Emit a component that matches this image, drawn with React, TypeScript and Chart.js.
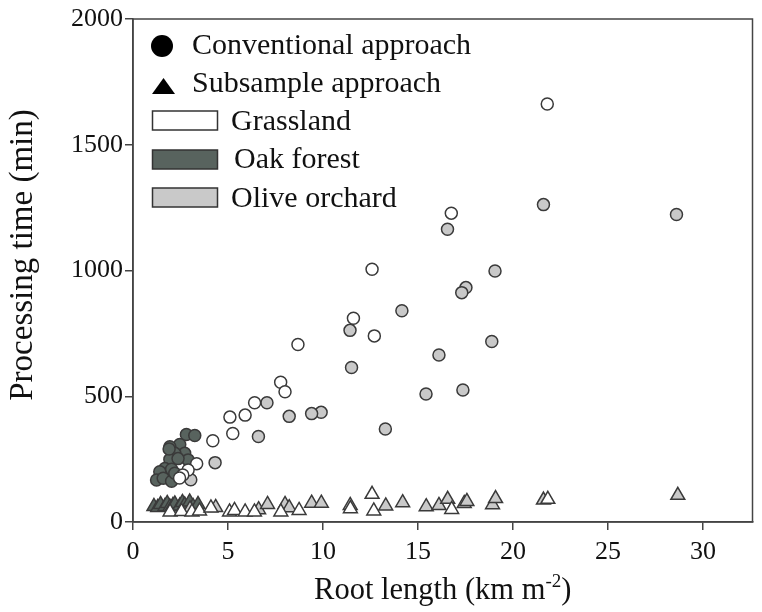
import React, { useEffect, useRef } from "react";
import { Chart, registerables } from "chart.js";

Chart.register(...registerables);

// Conventional approach (circles)
const grasslandConvX = [21.8, 16.75, 12.58, 11.6, 12.7, 8.68, 7.77, 8.0, 6.4, 5.9, 5.1, 5.25, 4.2, 3.35, 2.9, 2.62, 2.45];
const grasslandConvY = [1662, 1228, 1005, 810, 740, 706, 556, 518, 474, 425, 417, 352, 323, 232, 207, 187, 175];

const oakConvX = [2.81, 3.25, 2.46, 1.94, 2.72, 2.2, 2.9, 1.94, 2.37, 1.68, 2.03, 1.41, 1.24, 1.59, 2.03, 2.2, 1.9];
const oakConvY = [348, 344, 308, 299, 273, 273, 247, 249, 252, 213, 210, 200, 167, 174, 162, 194, 290];

const oliveConvX = [28.6, 21.6, 16.55, 19.05, 17.52, 17.3, 14.15, 11.42, 18.88, 16.1, 11.5, 17.36, 15.42, 13.28, 9.9, 9.4, 8.22, 7.05, 6.6, 4.32, 3.04];
const oliveConvY = [1223, 1262, 1164, 998, 932, 912, 840, 762, 718, 664, 614, 525, 509, 370, 436, 431, 420, 474, 340, 236, 168];

// Subsample approach (triangles)
const grasslandSubX = [1.95, 2.55, 3.1, 3.5, 4.1, 5.08, 5.34, 5.9, 6.39, 7.78, 8.74, 11.44, 12.58, 12.67, 16.77, 21.83];
const grasslandSubY = [40, 42, 40, 44, 56, 40, 46, 40, 40, 40, 46, 53, 110, 44, 50, 90];

const oakSubX = [1.1, 1.3, 1.45, 1.68, 1.8, 1.94, 2.1, 2.2, 2.46, 2.6, 2.72, 2.98, 3.16, 3.42];
const oakSubY = [62, 58, 70, 62, 74, 60, 66, 72, 64, 78, 68, 80, 62, 70];

const oliveSubX = [3.0, 4.35, 6.61, 7.08, 8.0, 8.22, 9.4, 9.91, 11.43, 13.3, 14.19, 15.43, 16.1, 16.56, 17.43, 17.57, 18.92, 19.08, 21.6, 28.67];
const oliveSubY = [52, 58, 49, 70, 70, 57, 75, 75, 66, 64, 77, 61, 66, 90, 74, 82, 69, 93, 87, 106];

const xTicks = [0, 5, 10, 15, 20, 25, 30];
const yTicks = [0, 500, 1000, 1500, 2000];

const legendItems = ["Conventional approach", "Subsample approach", "Grassland", "Oak forest", "Olive orchard"];
const xTitle = "Root length (km m";
const xTitleSup = "-2";
const yTitle = "Processing time (min)";

const WHITE = "#ffffff";
const OAK = "#58635e";
const OLIVE = "#c9c9c9";
const EDGE = "#3a3a3a";
const FONT = "'Liberation Serif', 'Times New Roman', serif";

const pts = (xs: number[], ys: number[]) => xs.map((x, i) => ({ x, y: ys[i] }));

const overlay = {
  id: "overlay",
  afterDraw(chart: any) {
    const { ctx, chartArea } = chart;
    const { left, right, top, bottom } = chartArea;
    ctx.save();
    // frame
    ctx.strokeStyle = "#444";
    ctx.lineWidth = 1.5;
    ctx.strokeRect(left, top, right - left, bottom - top);

    // legend
    ctx.fillStyle = "#000";
    ctx.beginPath();
    ctx.arc(162, 46, 11, 0, Math.PI * 2);
    ctx.fill();
    ctx.beginPath();
    ctx.moveTo(152, 94);
    ctx.lineTo(175, 94);
    ctx.lineTo(163.5, 78);
    ctx.closePath();
    ctx.fill();
    const rects = [
      { y: 111, fill: WHITE },
      { y: 150, fill: OAK },
      { y: 188, fill: OLIVE },
    ];
    ctx.lineWidth = 1.5;
    ctx.strokeStyle = "#333";
    rects.forEach((r) => {
      ctx.fillStyle = r.fill;
      ctx.fillRect(152.5, r.y, 65, 19);
      ctx.strokeRect(152.5, r.y, 65, 19);
    });
    ctx.fillStyle = "#111";
    ctx.font = `30px ${FONT}`;
    ctx.textAlign = "left";
    ctx.textBaseline = "alphabetic";
    const tx = [192, 192, 231, 234, 231];
    const ty = [54, 92, 130, 168, 207];
    legendItems.forEach((t, i) => ctx.fillText(t, tx[i], ty[i]));

    // x title
    const big = `30.5px ${FONT}`;
    const small = `19px ${FONT}`;
    ctx.font = big;
    const w1 = ctx.measureText(xTitle).width;
    ctx.font = small;
    const w2 = ctx.measureText(xTitleSup).width;
    ctx.font = big;
    const w3 = ctx.measureText(")").width;
    const cx = (left + right) / 2;
    let sx = cx - (w1 + w2 + w3) / 2;
    const by = 599;
    ctx.fillText(xTitle, sx, by);
    sx += w1;
    ctx.font = small;
    ctx.fillText(xTitleSup, sx, by - 12);
    sx += w2;
    ctx.font = big;
    ctx.fillText(")", sx, by);

    // y title
    ctx.font = `33px ${FONT}`;
    ctx.translate(23, 255);
    ctx.rotate(-Math.PI / 2);
    ctx.textAlign = "center";
    ctx.textBaseline = "middle";
    ctx.fillText(yTitle, 0, 0);
    ctx.restore();
  },
};

export default function App() {
  const ref = useRef<HTMLCanvasElement>(null);
  useEffect(() => {
    document.body.style.margin = "0";
    const ds = (label: string, data: any[], fill: string, style: string, radius: number) => ({
      label,
      data,
      backgroundColor: fill,
      borderColor: EDGE,
      borderWidth: 1.5,
      pointStyle: style,
      pointRadius: radius,
      pointHoverRadius: radius,
    });
    const chart = new Chart(ref.current!, {
      type: "scatter",
      data: {
        datasets: [
          ds("Grassland conventional", pts(grasslandConvX, grasslandConvY), WHITE, "circle", 6),
          ds("Olive orchard conventional", pts(oliveConvX, oliveConvY), OLIVE, "circle", 6),
          ds("Oak forest conventional", pts(oakConvX, oakConvY), OAK, "circle", 6),
          ds("Grassland subsample", pts(grasslandSubX, grasslandSubY), WHITE, "triangle", 8),
          ds("Olive orchard subsample", pts(oliveSubX, oliveSubY), OLIVE, "triangle", 8),
          ds("Oak forest subsample", pts(oakSubX, oakSubY), OAK, "triangle", 8),
        ],
      },
      options: {
        responsive: false,
        animation: false,
        layout: { padding: { top: 19, right: 6, left: 0, bottom: 0 } },
        plugins: { legend: { display: false }, tooltip: { enabled: false } },
        scales: {
          x: {
            type: "linear",
            min: 0,
            max: 32.6,
            afterBuildTicks: (s: any) => {
              s.ticks = xTicks.map((v) => ({ value: v }));
            },
            afterFit: (s: any) => {
              s.height = 90;
            },
            ticks: { color: "#111", font: { family: FONT, size: 26 }, padding: 7, callback: (v: any) => String(v) },
            grid: { display: true, drawOnChartArea: false, drawTicks: true, tickLength: 8, color: "#444", lineWidth: 1.5 },
            border: { display: true, color: "#444", width: 1.5 },
          },
          y: {
            type: "linear",
            min: 0,
            max: 2000,
            afterBuildTicks: (s: any) => {
              s.ticks = yTicks.map((v) => ({ value: v }));
            },
            afterFit: (s: any) => {
              s.width = 133;
            },
            ticks: { color: "#111", font: { family: FONT, size: 26 }, padding: 2, callback: (v: any) => String(v) },
            grid: { display: true, drawOnChartArea: false, drawTicks: true, tickLength: 8, color: "#444", lineWidth: 1.5 },
            border: { display: true, color: "#444", width: 1.5 },
          },
        },
      },
      plugins: [overlay],
    });
    return () => chart.destroy();
  }, []);
  return <canvas ref={ref} width={762} height={612} />;
}
